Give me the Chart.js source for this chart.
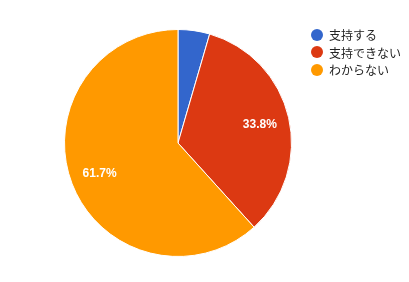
<!DOCTYPE html>
<html><head><meta charset="utf-8">
<script src="https://cdn.jsdelivr.net/npm/chart.js@4"></script>
<style>
html,body{margin:0;padding:0;background:#fff;}
#wrap{position:relative;width:409px;height:282px;}
#legend{position:absolute;left:311px;top:26px;margin:0;padding:0;list-style:none;font-family:"Noto Sans CJK JP",sans-serif;font-size:12px;color:#222;}
#legend li{height:17.5px;line-height:17.5px;display:flex;align-items:center;white-space:nowrap;}
#legend .dot{width:12px;height:12px;border-radius:50%;display:inline-block;margin-right:6px;}
</style></head>
<body><div id="wrap"><canvas id="c" width="409" height="282"></canvas><ul id="legend"></ul></div>
<script>
const categories = ["支持する", "支持できない", "わからない"];
const values = [4.5, 33.8, 61.7];
const colors = ["#3366cc", "#dc3912", "#ff9900"];

const leg = document.getElementById('legend');
categories.forEach((c,i)=>{
  const li=document.createElement('li');
  const d=document.createElement('span');d.className='dot';d.style.background=colors[i];
  li.appendChild(d);li.appendChild(document.createTextNode(c));leg.appendChild(li);
});

const labelPlugin = {
  id:'pctLabels',
  afterDatasetsDraw(chart){
    const ctx=chart.ctx;
    const meta=chart.getDatasetMeta(0);
    const total=values.reduce((a,b)=>a+b,0);
    ctx.save();
    ctx.fillStyle='#fff';
    ctx.font='bold 12px "Liberation Sans", Arial, sans-serif';
    ctx.textAlign='center';ctx.textBaseline='middle';
    meta.data.forEach((arc,i)=>{
      const pct=values[i]/total*100;
      if(pct<6) return;
      const p=arc.getProps(['x','y','startAngle','endAngle','outerRadius'],true);
      const mid=(p.startAngle+p.endAngle)/2;
      const r=p.outerRadius*0.74;
      ctx.fillText(pct.toFixed(1)+'%', p.x+Math.cos(mid)*r, p.y+Math.sin(mid)*r+0.5);
    });
    ctx.restore();
  }
};

new Chart(document.getElementById('c'),{
  type:'pie',
  data:{labels:categories,datasets:[{data:values,backgroundColor:colors,borderColor:'#fff',borderWidth:1,hoverBorderWidth:1}]},
  options:{
    responsive:false,animation:false,
    layout:{padding:{left:64,top:29,right:117,bottom:25}},
    plugins:{legend:{display:false},tooltip:{enabled:false}}
  },
  plugins:[labelPlugin]
});
</script></body></html>
